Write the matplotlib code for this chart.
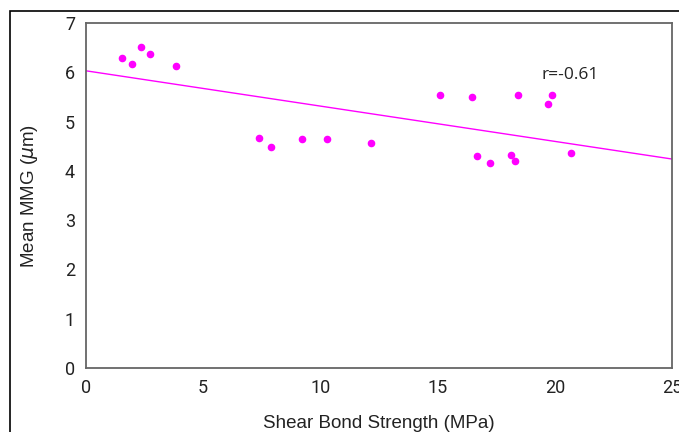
import numpy as np
import matplotlib.pyplot as plt
from matplotlib.patches import Rectangle

# Shear bond strength (MPa) vs mean MMG (um)
shear_bond = [1.55, 1.95, 2.35, 2.75, 3.85, 7.4, 7.9, 9.2, 10.3, 12.15,
              15.1, 16.45, 16.7, 17.25, 18.45, 18.15, 18.3, 19.7, 19.9, 20.7]
mean_mmg = [6.28, 6.17, 6.52, 6.37, 6.12, 4.67, 4.49, 4.65, 4.65, 4.56,
            5.53, 5.49, 4.31, 4.16, 5.53, 4.32, 4.20, 5.36, 5.53, 4.36]

# trend line endpoints
trend_x = [0, 25]
trend_y = [6.03, 4.24]
r_text = "r=-0.61"

plt.rcParams['font.family'] = ['Roboto', 'DejaVu Sans']

fig = plt.figure(figsize=(6.79, 4.32), dpi=100)
ax = fig.add_axes([86 / 679, 1 - 368 / 432, 586 / 679, 345 / 432])

# outer frame around the figure
fig.patches.append(Rectangle((10 / 679, -0.1), 1.0, 1 - 11 / 432 + 0.1,
                             transform=fig.transFigure, fill=False,
                             edgecolor="black", linewidth=1.2))

ax.plot(trend_x, trend_y, color="#FF00FF", linewidth=1)
ax.scatter(shear_bond, mean_mmg, s=20, color="#FF00FF", zorder=3)

ax.text(19.45, 5.95, r_text, fontsize=12.5, va="center", ha="left",
        family=["Open Sans", "DejaVu Sans"], color="#222222")

ax.set_xlim(0, 25)
ax.set_ylim(0, 7)
ax.set_xticks([0, 5, 10, 15, 20, 25])
ax.set_yticks([0, 1, 2, 3, 4, 5, 6, 7])
ax.tick_params(length=0, labelsize=13, pad=8, colors="#222222")

for sp in ax.spines.values():
    sp.set_color("#666666")
    sp.set_linewidth(1.3)

lab_font = ["Liberation Sans", "DejaVu Sans"]
ax.set_xlabel("Shear Bond Strength (MPa)", fontsize=13.5, labelpad=13,
              color="#222222", family=lab_font)
ax.set_ylabel(r"Mean MMG ($\mu$m)", fontsize=13.5, labelpad=18,
              color="#222222", family=lab_font)

plt.savefig("out.png", dpi=100)
